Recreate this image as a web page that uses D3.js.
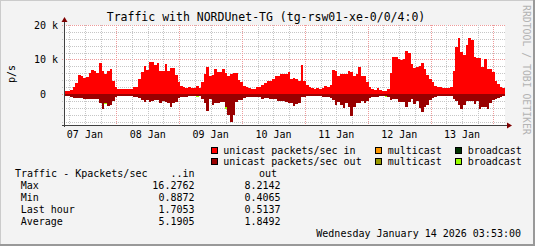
<!DOCTYPE html>
<html>
<head>
<meta charset="utf-8">
<script src="https://cdn.jsdelivr.net/npm/d3@7"></script>
<style>
  html, body { margin: 0; padding: 0; background: #f3f3f3; }
  svg { display: block; }
  text { font-family: "DejaVu Sans Mono", monospace; white-space: pre; }
</style>
</head>
<body>
<svg id="chart" width="535" height="246"></svg>
<script>
// hourly values, kpackets/sec, starting Jan 7 ~04:24
const unicastIn = [
  1.0,1.0,1.2,2.0,3.3,5.5,5.3,4.7,5.0,6.2,
  7.0,6.7,6.1,8.9,6.7,5.8,6.8,7.2,3.8,2.1,
  1.4,1.3,1.3,1.3,1.3,1.4,2.0,2.1,4.3,6.5,
  8.1,6.9,9.3,9.3,8.5,8.9,6.7,6.7,8.7,6.7,
  7.5,7.5,5.5,3.6,2.3,2.0,1.8,1.9,1.6,1.8,
  2.3,1.8,3.5,5.7,7.8,5.3,5.6,7.2,6.5,6.5,
  7.2,6.0,5.3,5.9,6.1,6.1,4.0,3.5,2.3,2.0,
  1.6,1.5,1.5,2.0,2.0,2.7,3.1,3.7,3.7,4.4,
  5.1,5.1,5.9,5.9,5.7,6.4,4.3,4.6,4.3,3.9,
  8.4,3.8,2.6,2.0,1.8,1.5,1.8,1.5,1.8,2.3,
  2.1,2.6,7.0,6.7,5.1,5.9,5.9,5.9,6.7,6.5,
  5.1,5.9,7.9,5.2,5.2,3.5,2.1,1.5,1.1,1.6,
  1.1,0.9,0.9,1.4,6.0,10.6,10.6,10.0,9.9,10.0,
  12.5,11.8,8.7,7.6,7.8,8.0,9.0,7.1,5.5,4.3,
  3.4,2.4,2.0,1.9,1.8,1.8,1.8,2.0,6.7,13.6,
  16.3,12.3,11.3,14.2,16.2,15.7,10.6,10.5,10.3,7.7,
  10.0,7.1,7.1,6.5,3.8,2.8,2.0,1.8
];
const unicastOut = [
  0.6,0.6,0.8,1.1,1.1,1.1,1.1,1.4,1.5,1.5,
  1.6,1.6,1.6,2.7,4.4,2.5,3.6,3.3,2.0,1.0,
  0.6,0.6,0.5,0.5,0.6,0.6,0.8,0.8,1.1,1.7,
  2.2,1.7,2.4,1.9,1.7,1.7,2.5,1.9,2.2,2.7,
  3.7,2.7,2.2,1.3,0.8,0.8,0.8,0.6,0.6,0.6,
  0.6,0.6,1.5,2.5,4.8,1.5,3.3,2.5,2.5,2.2,
  2.2,3.7,6.1,8.2,6.1,2.2,1.7,1.7,1.3,1.0,
  0.8,0.8,0.8,1.0,1.0,1.5,1.3,1.3,1.5,1.5,
  1.5,2.0,2.0,2.0,2.2,2.7,2.5,3.5,2.9,2.5,
  1.0,1.0,0.6,0.6,0.6,0.6,0.6,0.6,0.8,1.0,
  1.0,1.3,1.7,3.2,2.2,3.2,4.0,2.7,3.7,6.4,
  3.7,2.5,2.5,1.9,2.7,1.9,1.3,1.0,0.8,0.8,
  0.6,0.6,0.6,1.0,1.7,1.4,1.4,2.2,2.2,2.2,
  3.7,2.2,1.4,2.9,2.0,4.2,5.1,3.7,3.2,1.7,
  1.3,0.8,0.6,0.6,0.6,0.6,0.6,0.6,1.4,2.0,
  3.2,4.4,3.2,2.0,2.0,2.0,3.0,2.0,4.3,3.7,
  3.7,4.3,2.7,1.7,1.4,1.3,0.8,0.6
];
// sparse small series: [hour index, kpps]
const multicastIn = [];
const multicastOut = [];
const broadcastIn = [];
const broadcastOut = [[15, 0.4], [50, 0.3], [61, 0.6], [122, 0.3]];

const dayLabels = ["07 Jan", "08 Jan", "09 Jan", "10 Jan", "11 Jan", "12 Jan", "13 Jan"];
const yLabels = [[20000, "20 k"], [10000, "10 k"], [0, "0  "]];

const legendItems = [
  { label: "unicast packets/sec in",  color: "#ff0000", col: 0, row: 0 },
  { label: "unicast packets/sec out", color: "#990000", col: 0, row: 1 },
  { label: "multicast", color: "#ff9900", col: 1, row: 0 },
  { label: "multicast", color: "#999900", col: 1, row: 1 },
  { label: "broadcast", color: "#003300", col: 2, row: 0 },
  { label: "broadcast", color: "#99ff00", col: 2, row: 1 }
];
const statRows = ["Max", "Min", "Last hour", "Average"];
const statsIn  = ["16.2762", "0.8872", "1.7053", "5.1905"];
const statsOut = ["8.2142", "0.4065", "0.5137", "1.8492"];

const W = 535, H = 246;
const svg = d3.select("#chart");
const HOUR = 3600e3;
const t0 = Date.UTC(2026, 0, 7, 4, 24);
const t1 = t0 + 168 * HOUR;

const x = d3.scaleUtc().domain([t0, t1]).range([65, 505]);
const y = d3.scaleLinear().domain([-9000, 20000]).range([125, 25]);

// background + 3d frame
svg.append("rect").attr("width", W).attr("height", H).attr("fill", "#f3f3f3");
svg.append("path").attr("d", `M0,${H} V0 H${W}`).attr("stroke", "#cbcbcb").attr("stroke-width", 2).attr("fill", "none");
svg.append("path").attr("d", `M0,${H - 1} H${W - 1} V0`).attr("stroke", "#999999").attr("stroke-width", 2).attr("fill", "none");

svg.append("rect").attr("x", 65).attr("y", 25).attr("width", 440).attr("height", 100).attr("fill", "#ffffff");

// grid
const grid = svg.append("g").attr("shape-rendering", "crispEdges").attr("fill", "none");
d3.range(-8000, 20001, 2000).forEach(v => {
  const major = v % 10000 === 0;
  grid.append("line")
    .attr("x1", 62).attr("x2", 505)
    .attr("y1", Math.round(y(v)) + 0.5).attr("y2", Math.round(y(v)) + 0.5)
    .attr("stroke", major ? "#ee9a9a" : "#c6c6c6")
    .attr("stroke-dasharray", "1,1");
});
const sixHours = d3.utcHour.every(6).range(new Date(t0), new Date(t1));
sixHours.forEach(d => {
  const major = d.getUTCHours() === 0;
  const xx = Math.round(x(d)) + 0.5;
  grid.append("line")
    .attr("x1", xx).attr("x2", xx).attr("y1", 25).attr("y2", 127)
    .attr("stroke", major ? "#ee9a9a" : "#c6c6c6")
    .attr("stroke-dasharray", "1,1");
});

// bars
const hourStart = i => t0 + i * HOUR;
const toMap = list => new Map(list.map(([i, v]) => [i, v]));
const mIn = toMap(multicastIn), mOut = toMap(multicastOut);
const bIn = toMap(broadcastIn), bOut = toMap(broadcastOut);

const bars = svg.append("g").attr("shape-rendering", "crispEdges");
function stack(values, sign, color, offsetFn) {
  bars.append("g").selectAll("rect")
    .data(values)
    .join("rect")
    .attr("fill", color)
    .attr("x", d => x(hourStart(d.i)))
    .attr("width", d => x(hourStart(d.i + 1)) - x(hourStart(d.i)))
    .attr("y", d => sign > 0 ? y((offsetFn(d.i) + d.v) * 1000) : y(-offsetFn(d.i) * 1000))
    .attr("height", d => Math.abs(y(0) - y(d.v * 1000)));
}
const inData = unicastIn.map((v, i) => ({ i, v }));
const outData = unicastOut.map((v, i) => ({ i, v }));
stack(inData, 1, "#ff0000", () => 0);
stack(multicastIn.map(([i, v]) => ({ i, v })), 1, "#ff9900", i => unicastIn[i]);
stack(broadcastIn.map(([i, v]) => ({ i, v })), 1, "#003300", i => unicastIn[i] + (mIn.get(i) || 0));
stack(outData, -1, "#990000", () => 0);
stack(multicastOut.map(([i, v]) => ({ i, v })), -1, "#999900", i => unicastOut[i]);
stack(broadcastOut.map(([i, v]) => ({ i, v })), -1, "#99ff00", i => unicastOut[i] + (mOut.get(i) || 0));

// axes lines + arrows
const axisColor = "#404040";
svg.append("line").attr("x1", 64.5).attr("x2", 64.5).attr("y1", 127).attr("y2", 21)
  .attr("stroke", axisColor).attr("shape-rendering", "crispEdges");
svg.append("line").attr("x1", 62).attr("x2", 508).attr("y1", 125.5).attr("y2", 125.5)
  .attr("stroke", axisColor).attr("shape-rendering", "crispEdges");
svg.append("path").attr("d", "M61.5,22 L64.5,17 L67.5,22 Z").attr("fill", "#7f0000");
svg.append("path").attr("d", "M507,122.5 L512,125.5 L507,128.5 Z").attr("fill", "#7f0000");

// y tick labels
svg.append("g").selectAll("text")
  .data(yLabels)
  .join("text")
  .attr("x", 58).attr("y", d => y(d[0]) + 3.6)
  .attr("text-anchor", "end").attr("font-size", 10).attr("fill", "#000")
  .text(d => d[1]);

// x tick labels at noon
const noons = dayLabels.map((_, k) => new Date(Date.UTC(2026, 0, 7 + k, 12)));
const fmt = d3.utcFormat("%d %b");
svg.append("g").selectAll("text")
  .data(noons)
  .join("text")
  .attr("x", d => x(d)).attr("y", 137.7)
  .attr("text-anchor", "middle").attr("font-size", 10).attr("fill", "#000")
  .text(fmt);

// titles
svg.append("text").attr("x", 266).attr("y", 20.5).attr("text-anchor", "middle")
  .attr("font-size", 11.5).attr("fill", "#000")
  .text("Traffic with NORDUnet-TG (tg-rsw01-xe-0/0/4:0)");
svg.append("text").attr("transform", "translate(15,74) rotate(-90)")
  .attr("text-anchor", "middle").attr("font-size", 10).attr("fill", "#000").text("p/s");
svg.append("text").attr("transform", "translate(522.5,5) rotate(90)")
  .attr("font-size", 9.8).attr("fill", "#b4b4b4").text("RRDTOOL / TOBI OETIKER");

// legend
const colX = [210.5, 375, 455];
const rowY = [146.5, 158.3];
const leg = svg.append("g").selectAll("g").data(legendItems).join("g");
leg.append("rect")
  .attr("x", d => colX[d.col] + 0.5).attr("y", d => rowY[d.row] + 0.5)
  .attr("width", 6).attr("height", 6)
  .attr("fill", d => d.color).attr("stroke", "#000").attr("shape-rendering", "crispEdges");
leg.append("text")
  .attr("x", d => colX[d.col] + 12.7).attr("y", d => rowY[d.row] + 7)
  .attr("font-size", 10).attr("fill", "#000")
  .text(d => d.label);

// stats table
const stats = svg.append("g").attr("font-size", 10).attr("fill", "#000");
stats.append("text").attr("x", 15).attr("y", 177.3).text("Traffic - Kpackets/sec");
stats.append("text").attr("x", 194.5).attr("y", 177.3).attr("text-anchor", "end").text("..in");
stats.append("text").attr("x", 277).attr("y", 177.3).attr("text-anchor", "end").text("out");
statRows.forEach((r, k) => {
  const yy = 189.2 + k * 11.85;
  stats.append("text").attr("x", 20.7).attr("y", yy).text(r);
  stats.append("text").attr("x", 194.5).attr("y", yy).attr("text-anchor", "end").text(statsIn[k]);
  stats.append("text").attr("x", 280.5).attr("y", yy).attr("text-anchor", "end").text(statsOut[k]);
});
stats.append("text").attr("x", 521).attr("y", 236.7).attr("text-anchor", "end")
  .text("Wednesday January 14 2026 03:53:00");
</script>
</body>
</html>
